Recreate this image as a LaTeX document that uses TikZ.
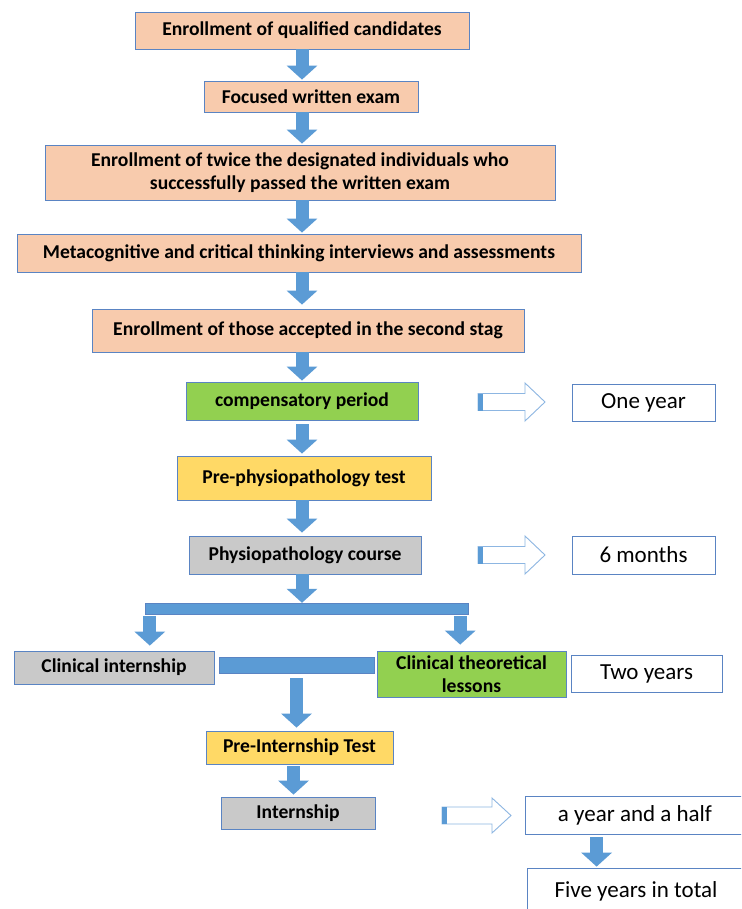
\documentclass[tikz,border=0pt]{standalone}
\usepackage{fontspec}
\setmainfont{Carlito}
\usepackage{tikz}
\usetikzlibrary{arrows.meta}
\definecolor{peach}{HTML}{F8CBAD}
\definecolor{lgreen}{HTML}{92D050}
\definecolor{lyellow}{HTML}{FFD966}
\definecolor{lgrey}{HTML}{C9C9C9}
\definecolor{boxline}{HTML}{5A84C3}
\definecolor{flowblue}{HTML}{5B9BD5}
\definecolor{hollowline}{HTML}{8DB6E2}

\begin{document}
\begin{tikzpicture}[x=1pt, y=-1pt,
    stage/.style={draw=boxline, line width=0.8pt, fill=peach, align=center,
        inner sep=0pt, font=\fontsize{19.6}{23}\selectfont\bfseries},
    period/.style={draw=boxline, line width=0.8pt, fill=white, align=center,
        inner sep=0pt, font=\fontsize{23}{27}\selectfont},
    flow/.style={draw=flowblue, line width=13pt,
        -{Triangle[width=30pt, length=14pt]}, shorten >=1pt},
    joint/.style={fill=flowblue, draw=boxline, line width=0.4pt, inner sep=0pt},
    hollow/.style={draw=hollowline, line width=0.9pt, fill=white, line join=miter},
    tail/.style={fill=flowblue, draw=none}]
    \clip (0,0) rectangle (741,909);
    \fill[white] (0,0) rectangle (741,909);

    % main column
    \node(b1)[stage, minimum width=334pt, minimum height=37pt] at (302,30.5) {Enrollment of qualified candidates};
    \node(b2)[stage, minimum width=214pt, minimum height=31pt] at (311,96.5) {Focused written exam};
    \node(b3)[stage, minimum width=510pt, minimum height=55pt] at (300,172.5) {Enrollment of twice the designated individuals who\\successfully passed the written exam};
    \node(b4)[stage, minimum width=564pt, minimum height=38pt] at (299,253) {Metacognitive and critical thinking interviews and assessments};
    \node(b5)[stage, minimum width=432pt, minimum height=43pt] at (308,330.5) {Enrollment of those accepted in the second stag};
    \node(b6)[stage, fill=lgreen, minimum width=232pt, minimum height=38pt] at (302,401) {compensatory period};
    \node(b7)[stage, fill=lyellow, minimum width=254pt, minimum height=44pt] at (304,478) {Pre-physiopathology test};
    \node(b8)[stage, fill=lgrey, minimum width=232pt, minimum height=38pt] at (305,555) {Physiopathology course};
    \node(bar)[joint, minimum width=323pt, minimum height=11pt] at (306.5,608.5) {};
    \node(b9)[stage, fill=lgrey, minimum width=200pt, minimum height=33pt] at (114,667.5) {Clinical internship};
    \node(mid)[joint, minimum width=155pt, minimum height=16pt] at (296.5,665) {};
    \node(b10)[stage, fill=lgreen, minimum width=189pt, minimum height=46pt] at (471.5,674) {Clinical theoretical\\lessons};
    \node(b11)[stage, fill=lyellow, minimum width=187pt, minimum height=33pt] at (299.5,747.5) {Pre-Internship Test};
    \node(b12)[stage, fill=lgrey, minimum width=154pt, minimum height=32pt] at (298,813) {Internship};

    % durations
    \node(oneyear)[period, minimum width=143pt, minimum height=37pt] at (643.5,402.5) {One year};
    \node(sixmonths)[period, minimum width=143pt, minimum height=38pt] at (643.5,555) {6 months};
    \node(twoyears)[period, minimum width=151pt, minimum height=37pt] at (646.5,673.5) {Two years};
    \node(yearhalf)[period, minimum width=220pt, minimum height=38pt] at (635,815) {a year and a half};
    \node(total)[period, minimum width=218pt, minimum height=46pt] at (636,891) {Five years in total};

    \coordinate(ax) at (302,0);
    \draw[flow] (b1.south -| ax) -- (b2.north -| ax);
    \draw[flow] (b2.south -| ax) -- (b3.north -| ax);
    \draw[flow] (b3.south -| ax) -- (b4.north -| ax);
    \draw[flow, shorten >=4pt] (b4.south -| ax) -- (b5.north -| ax);
    \draw[flow] (b5.south -| ax) -- (b6.north -| ax);
    \draw[flow, shorten <=4pt, shorten >=2pt] (b6.south -| ax) -- (b7.north -| ax);
    \draw[flow, shorten >=3pt] (b7.south -| ax) -- (b8.north -| ax);
    \draw[flow, shorten >=0pt] (b8.south -| ax) -- (bar.north -| ax);
    \draw[flow, shorten <=2pt, shorten >=5pt] ([xshift=5pt]bar.south west) -- ([xshift=5pt]bar.south west |- b9.north);
    \draw[flow, shorten <=2pt, shorten >=6pt] ([xshift=-8pt]bar.south east) -- ([xshift=-8pt]bar.south east |- b10.north);
    \draw[flow, shorten <=5pt, shorten >=3pt] (mid.south) -- (mid.south |- b11.north);
    \draw[flow, shorten <=2pt, shorten >=2pt] ([xshift=-6pt]b11.south) -- ([xshift=-6pt]b11.south |- b12.north);
    \draw[flow, shorten <=3pt] ([xshift=72pt]yearhalf.south west) -- ([xshift=72pt]yearhalf.south west |- total.north);

    % hollow arrows
    \coordinate(h1) at (478,402);
    \coordinate(h2) at (478,555);
    \coordinate(h3) at (442,815.5);
    \draw[hollow] (h1) ++(0,-8.5) -- ++(47,0) -- ++(0,-10.5) -- ++(20,19) -- ++(-20,19) -- ++(0,-10.5) -- ++(-47,0) -- cycle;
    \fill[tail] (h1) ++(0,-8.5) rectangle ++(5,17);
    \draw[hollow] (h2) ++(0,-8.5) -- ++(47,0) -- ++(0,-10.5) -- ++(20,19) -- ++(-20,19) -- ++(0,-10.5) -- ++(-47,0) -- cycle;
    \fill[tail] (h2) ++(0,-8.5) rectangle ++(5,17);
    \draw[hollow] (h3) ++(0,-8.5) -- ++(50,0) -- ++(0,-9) -- ++(19,17.5) -- ++(-19,17.5) -- ++(0,-9) -- ++(-50,0) -- cycle;
    \fill[tail] (h3) ++(0,-8.5) rectangle ++(5,17);
\end{tikzpicture}
\end{document}
